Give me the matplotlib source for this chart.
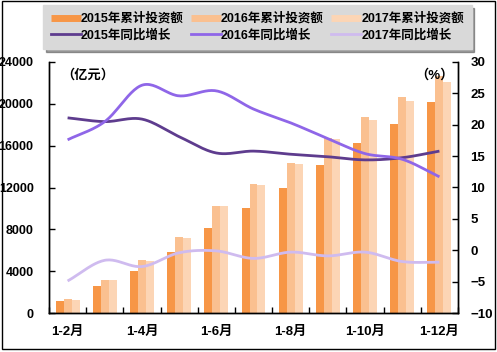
import numpy as np
import matplotlib
matplotlib.use("Agg")
import matplotlib.pyplot as plt
from matplotlib.lines import Line2D
from matplotlib.patches import Rectangle

plt.rcParams['font.family'] = ['Liberation Sans', 'Noto Sans CJK SC', 'DejaVu Sans']
plt.rcParams['font.weight'] = 'bold'

categories = ['1-2月', '1-3月', '1-4月', '1-5月', '1-6月', '1-7月',
              '1-8月', '1-9月', '1-10月', '1-11月', '1-12月']
inv2015 = [1150, 2580, 4010, 5830, 8130, 10040, 11950, 14150, 16250, 18070, 20170]
inv2016 = [1340, 3150, 5070, 7270, 10230, 12330, 14340, 16730, 18740, 20650, 22660]
inv2017 = [1250, 3150, 4940, 7140, 10200, 12240, 14240, 16630, 18450, 20270, 22080]
g2015 = [21.1, 20.5, 20.9, 18.1, 15.5, 15.8, 15.3, 14.9, 14.4, 14.75, 15.8]
g2016 = [17.6, 20.5, 26.3, 24.6, 25.4, 22.5, 20.3, 17.8, 15.4, 14.5, 11.7]
g2017 = [-4.9, -1.6, -2.6, -0.4, -0.1, -1.3, -0.3, -0.9, -0.3, -1.8, -1.9]
bar_labels = ['2015年累计投资额', '2016年累计投资额', '2017年累计投资额']
line_labels = ['2015年同比增长', '2016年同比增长', '2017年同比增长']

bar_colors = ['#F79646', '#FAC090', '#FCD5B5']
line_colors = ['#5E3C8E', '#8F66E8', '#CFBBEF']


def smooth(x, y, n=24, t=0.5):
    x = np.asarray(x, float); y = np.asarray(y, float)
    px = np.concatenate([[2 * x[0] - x[1]], x, [2 * x[-1] - x[-2]]])
    py = np.concatenate([[2 * y[0] - y[1]], y, [2 * y[-1] - y[-2]]])
    xs, ys = [], []
    for i in range(1, len(px) - 2):
        p0, p1, p2, p3 = (np.array([px[j], py[j]]) for j in (i - 1, i, i + 1, i + 2))
        c1 = p1 + (p2 - p0) * t / 3
        c2 = p2 - (p3 - p1) * t / 3
        s = np.linspace(0, 1, n, endpoint=(i == len(px) - 3))[:, None]
        pts = (1 - s) ** 3 * p1 + 3 * (1 - s) ** 2 * s * c1 + 3 * (1 - s) * s ** 2 * c2 + s ** 3 * p2
        xs.append(pts[:, 0]); ys.append(pts[:, 1])
    return np.concatenate(xs), np.concatenate(ys)


fig = plt.figure(figsize=(4.97, 3.52), dpi=100)
ax = fig.add_axes([49 / 497, 1 - 313 / 352, 409 / 497, 251 / 352])
ax2 = ax.twinx()

x = np.arange(len(categories))
w = 0.215
for k, (vals, c) in enumerate(zip([inv2015, inv2016, inv2017], bar_colors)):
    ax.bar(x + (k - 1) * w, vals, width=w, color=c, edgecolor='none', zorder=2)

for vals, c in zip([g2015, g2016, g2017], line_colors):
    sx, sy = smooth(x, vals)
    ax2.plot(sx, sy, color=c, lw=2.0, solid_capstyle='butt', zorder=3)

ax.set_xlim(-0.5, len(categories) - 0.5)
ax.set_ylim(0, 24000)
ax.set_yticks(np.arange(0, 24001, 4000))
ax2.set_ylim(-10, 30)
ax2.set_yticks(np.arange(-10, 31, 5))

ax.set_xticks(x[::2])
ax.set_xticklabels(categories[::2])
ax.set_xticks(np.arange(-0.5, len(categories), 1), minor=True)
ax.tick_params(axis='x', which='major', length=0, pad=9, labelsize=9.5)
ax.tick_params(axis='x', which='minor', direction='in', length=4, width=1)
ax.tick_params(axis='y', direction='in', length=4, width=1, pad=11, labelsize=9)
ax2.tick_params(axis='y', direction='in', length=4, width=1, pad=9, labelsize=9.5)

for a in (ax, ax2):
    a.spines['top'].set_visible(False)
    for s in ('left', 'right', 'bottom'):
        a.spines[s].set_linewidth(1.0)
        a.spines[s].set_color('black')

ax.text(0.03, 0.97, '（亿元）', transform=ax.transAxes, ha='left', va='top', fontsize=9.5)
ax.text(0.99, 0.97, '（%）', transform=ax.transAxes, ha='right', va='top', fontsize=9.5)

handles = []
for bc, lc in zip(bar_colors, line_colors):
    handles.append(Line2D([], [], color=bc, lw=5, solid_capstyle='butt'))
    handles.append(Line2D([], [], color=lc, lw=2))
labels = []
for bl, ll in zip(bar_labels, line_labels):
    labels += [bl, ll]

leg = fig.legend(handles, labels, ncol=3, loc='upper left',
                 bbox_to_anchor=(43 / 497, 1 - 5 / 352), fontsize=9,
                 frameon=True, fancybox=False, shadow=True,
                 handlelength=2.4, handletextpad=0.0, columnspacing=0.6,
                 borderpad=0.6, labelspacing=0.35, borderaxespad=0)
leg.get_frame().set_facecolor('#D9D9D9')
leg.get_frame().set_edgecolor('#D9D9D9')

fig.patches.append(Rectangle((2 / 497, 3 / 352), 493 / 497, 348 / 352,
                             transform=fig.transFigure, fill=False,
                             edgecolor='black', lw=1.0))

fig.savefig('out.png', dpi=100)
